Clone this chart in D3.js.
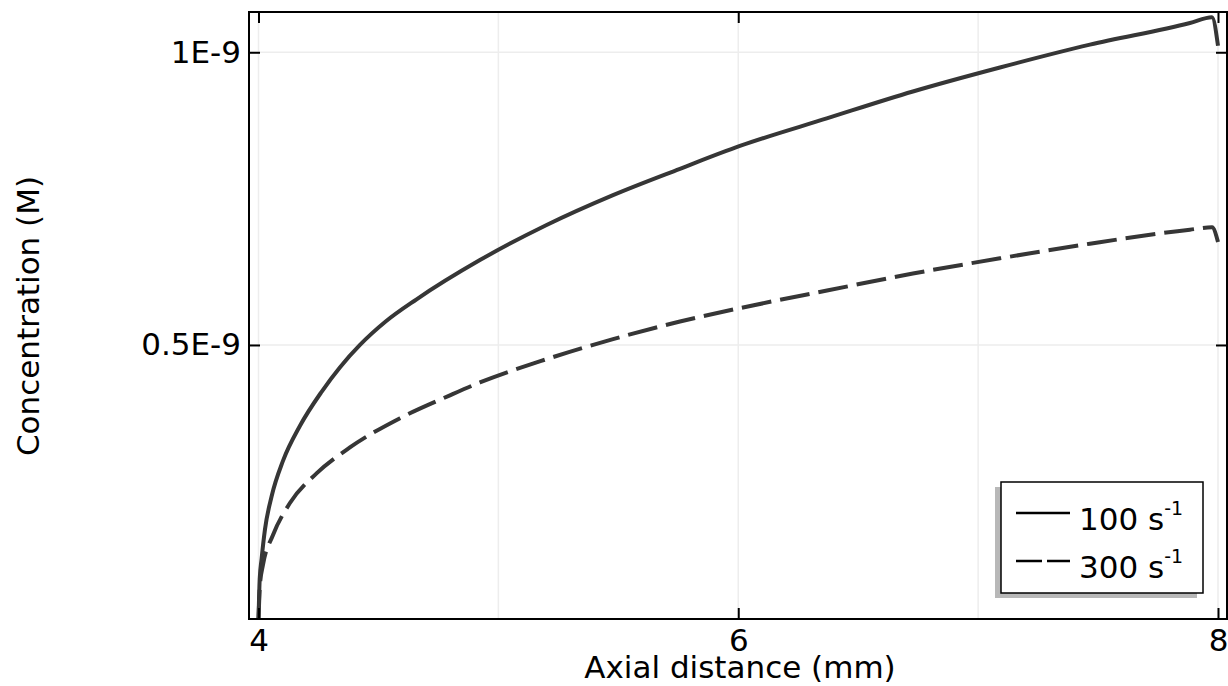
<!DOCTYPE html>
<html>
<head>
<meta charset="utf-8">
<script src="https://cdn.jsdelivr.net/npm/d3@7"></script>
<style>
  body { margin: 0; background: #fff; }
  svg text { font-family: "DejaVu Sans", sans-serif; fill: #000; }
</style>
</head>
<body>
<svg id="chart" width="1228" height="686"></svg>
<script>
// values (x in mm, concentration in M)
var distance100 = [4.0, 4.005, 4.013, 4.027, 4.055, 4.102, 4.173, 4.263, 4.34, 4.423, 4.53, 4.659, 4.923, 5.201, 5.478, 5.757, 6.007, 6.369, 6.728, 7.091, 7.466, 7.883, 7.975, 8.0];
var conc100 = [0.03e-9, 0.10e-9, 0.135e-9, 0.185e-9, 0.242e-9, 0.302e-9, 0.362e-9, 0.420e-9, 0.462e-9, 0.500e-9, 0.540e-9, 0.578e-9, 0.645e-9, 0.705e-9, 0.756e-9, 0.801e-9, 0.840e-9, 0.887e-9, 0.933e-9, 0.974e-9, 1.013e-9, 1.050e-9, 1.060e-9, 1.011e-9];

var distance300 = [4.0, 4.006, 4.019, 4.06, 4.131, 4.243, 4.381, 4.59, 4.798, 4.923, 5.203, 5.478, 5.757, 6.007, 6.37, 6.728, 7.091, 7.466, 7.883, 7.975, 8.0];
var conc300 = [0.03e-9, 0.09e-9, 0.125e-9, 0.175e-9, 0.230e-9, 0.281e-9, 0.325e-9, 0.375e-9, 0.414e-9, 0.436e-9, 0.476e-9, 0.510e-9, 0.540e-9, 0.563e-9, 0.593e-9, 0.622e-9, 0.648e-9, 0.673e-9, 0.697e-9, 0.701e-9, 0.676e-9];

var xTicks = [4, 6, 8];
var xGrid = [4, 5, 6, 7, 8];
var yTicks = [0.5e-9, 1e-9];
var yTickLabels = ["0.5E-9", "1E-9"];
var seriesNames = ["100 s", "300 s"];

var svg = d3.select("#chart");
// note: "top" is taken by window.top, so plot edges get their own names
var pLeft = 249, pRight = 1227, pTop = 12, pBottom = 619;

var x = d3.scaleLinear().domain([3.9604, 8.0375]).range([pLeft, pRight]);
var y = d3.scaleLinear().domain([0.0319e-9, 1.0688e-9]).range([pBottom, pTop]);

svg.append("clipPath").attr("id", "clip")
  .append("rect").attr("x", pLeft).attr("y", pTop).attr("width", pRight - pLeft).attr("height", pBottom - pTop);

// grid
svg.append("g").selectAll("line").data(xGrid).enter().append("line")
  .attr("x1", d => x(d)).attr("x2", d => x(d)).attr("y1", pTop).attr("y2", pBottom)
  .attr("stroke", "#ededed").attr("stroke-width", 1.5);
svg.append("g").selectAll("line").data(yTicks).enter().append("line")
  .attr("y1", d => y(d)).attr("y2", d => y(d)).attr("x1", pLeft).attr("x2", pRight)
  .attr("stroke", "#ededed").attr("stroke-width", 1.5);

// curves
var line = d3.line().curve(d3.curveMonotoneX);
var g = svg.append("g").attr("clip-path", "url(#clip)");
g.append("path")
  .attr("d", line(distance100.map((d, i) => [x(d), y(conc100[i])])))
  .attr("fill", "none").attr("stroke", "#363636").attr("stroke-width", 4);
g.append("path")
  .attr("d", line(distance300.map((d, i) => [x(d), y(conc300[i])])))
  .attr("fill", "none").attr("stroke", "#363636").attr("stroke-width", 4)
  .attr("stroke-dasharray", "30,9");

// frame
svg.append("rect").attr("x", pLeft).attr("y", pTop).attr("width", pRight - pLeft).attr("height", pBottom - pTop)
  .attr("fill", "none").attr("stroke", "#000").attr("stroke-width", 2);

// axes with inward ticks
var tk = 11;
var xb = svg.append("g").attr("transform", "translate(0," + pBottom + ")")
  .call(d3.axisBottom(x).tickValues(xTicks).tickSize(-tk).tickPadding(10).tickFormat(d3.format("d")));
var xt = svg.append("g").attr("transform", "translate(0," + pTop + ")")
  .call(d3.axisTop(x).tickValues(xTicks).tickSize(-tk).tickFormat(""));
var yl = svg.append("g").attr("transform", "translate(" + pLeft + ",0)")
  .call(d3.axisLeft(y).tickValues(yTicks).tickSize(-tk).tickPadding(8)
    .tickFormat((d, i) => yTickLabels[i]));
var yr = svg.append("g").attr("transform", "translate(" + pRight + ",0)")
  .call(d3.axisRight(y).tickValues(yTicks).tickSize(-tk).tickFormat(""));

[xb, xt, yl, yr].forEach(function (a) {
  a.select(".domain").remove();
  a.selectAll(".tick line").attr("stroke", "#000").attr("stroke-width", 2);
  a.selectAll(".tick text").attr("font-size", 31).attr("font-family", "DejaVu Sans").attr("fill", "#000");
});
xb.selectAll(".tick text").attr("dy", "0.71em");

// axis titles
svg.append("text").attr("x", 740).attr("y", 678).attr("text-anchor", "middle")
  .attr("font-size", 31).text("Axial distance (mm)");
svg.append("text").attr("transform", "translate(39,316) rotate(-90)").attr("text-anchor", "middle")
  .attr("font-size", 31).text("Concentration (M)");

// legend
var lg = svg.append("g");
lg.append("rect").attr("x", 995).attr("y", 487).attr("width", 202).attr("height", 111).attr("fill", "#b8b8b8");
lg.append("rect").attr("x", 1001).attr("y", 482).attr("width", 202).attr("height", 111)
  .attr("fill", "#fff").attr("stroke", "#000").attr("stroke-width", 1.5);
seriesNames.forEach(function (name, i) {
  var ly = 513 + i * 48;
  lg.append("line").attr("x1", 1016).attr("x2", 1070).attr("y1", ly).attr("y2", ly)
    .attr("stroke", "#000").attr("stroke-width", 2.5)
    .attr("stroke-dasharray", i === 1 ? "26,5" : null);
  var t = lg.append("text").attr("x", 1079).attr("y", ly + 17).attr("font-size", 31);
  t.append("tspan").text(name);
  t.append("tspan").attr("font-size", 19).attr("dy", -15).text("-1");
});
</script>
</body>
</html>
